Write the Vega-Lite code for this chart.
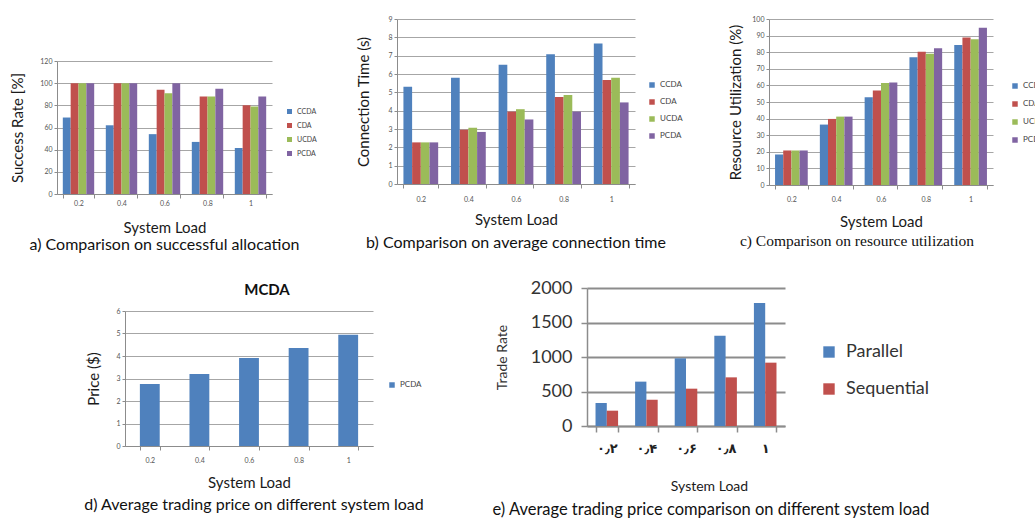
{
  "$schema": "https://vega.github.io/schema/vega-lite/v6.json",
  "background": "white",
  "padding": {"left": 10, "top": 15, "right": 0, "bottom": 0},
  "config": {
    "view": {"stroke": null},
    "font": "Lato",
    "axis": {"domainColor": "#8c8c8c", "tickColor": "#8c8c8c", "gridColor": "#a6a6a6", "labelColor": "#555555", "titleColor": "#1a1a1a", "titleFontWeight": "normal", "labelFont": "Lato", "titleFont": "Lato"},
    "legend": {"layout": {"right": {"anchor": "middle"}}, "labelFont": "Lato", "labelColor": "#444444", "symbolType": "square", "symbolStrokeWidth": 0, "titleFontSize": 1},
    "title": {"font": "Lato", "fontWeight": "normal", "color": "#111111", "anchor": "middle"}
  },
  "datasets": {
    "a": [
      {"load": "0.2", "alg": "CCDA", "v": 69}, {"load": "0.2", "alg": "CDA", "v": 100}, {"load": "0.2", "alg": "UCDA", "v": 100}, {"load": "0.2", "alg": "PCDA", "v": 100},
      {"load": "0.4", "alg": "CCDA", "v": 62}, {"load": "0.4", "alg": "CDA", "v": 100}, {"load": "0.4", "alg": "UCDA", "v": 100}, {"load": "0.4", "alg": "PCDA", "v": 100},
      {"load": "0.6", "alg": "CCDA", "v": 54}, {"load": "0.6", "alg": "CDA", "v": 94}, {"load": "0.6", "alg": "UCDA", "v": 91}, {"load": "0.6", "alg": "PCDA", "v": 100},
      {"load": "0.8", "alg": "CCDA", "v": 47}, {"load": "0.8", "alg": "CDA", "v": 88}, {"load": "0.8", "alg": "UCDA", "v": 88}, {"load": "0.8", "alg": "PCDA", "v": 95},
      {"load": "1", "alg": "CCDA", "v": 41.5}, {"load": "1", "alg": "CDA", "v": 80}, {"load": "1", "alg": "UCDA", "v": 79}, {"load": "1", "alg": "PCDA", "v": 88}
    ],
    "b": [
      {"load": "0.2", "alg": "CCDA", "v": 5.3}, {"load": "0.2", "alg": "CDA", "v": 2.27}, {"load": "0.2", "alg": "UCDA", "v": 2.27}, {"load": "0.2", "alg": "PCDA", "v": 2.27},
      {"load": "0.4", "alg": "CCDA", "v": 5.8}, {"load": "0.4", "alg": "CDA", "v": 2.96}, {"load": "0.4", "alg": "UCDA", "v": 3.07}, {"load": "0.4", "alg": "PCDA", "v": 2.84},
      {"load": "0.6", "alg": "CCDA", "v": 6.5}, {"load": "0.6", "alg": "CDA", "v": 3.95}, {"load": "0.6", "alg": "UCDA", "v": 4.08}, {"load": "0.6", "alg": "PCDA", "v": 3.52},
      {"load": "0.8", "alg": "CCDA", "v": 7.08}, {"load": "0.8", "alg": "CDA", "v": 4.75}, {"load": "0.8", "alg": "UCDA", "v": 4.86}, {"load": "0.8", "alg": "PCDA", "v": 3.95},
      {"load": "1", "alg": "CCDA", "v": 7.66}, {"load": "1", "alg": "CDA", "v": 5.67}, {"load": "1", "alg": "UCDA", "v": 5.8}, {"load": "1", "alg": "PCDA", "v": 4.45}
    ],
    "c": [
      {"load": "0.2", "alg": "CCDA", "v": 18.4}, {"load": "0.2", "alg": "CDA", "v": 20.8}, {"load": "0.2", "alg": "UCDA", "v": 20.8}, {"load": "0.2", "alg": "PCDA", "v": 20.8},
      {"load": "0.4", "alg": "CCDA", "v": 36.4}, {"load": "0.4", "alg": "CDA", "v": 39.8}, {"load": "0.4", "alg": "UCDA", "v": 41.2}, {"load": "0.4", "alg": "PCDA", "v": 41.2},
      {"load": "0.6", "alg": "CCDA", "v": 52.8}, {"load": "0.6", "alg": "CDA", "v": 57}, {"load": "0.6", "alg": "UCDA", "v": 61.4}, {"load": "0.6", "alg": "PCDA", "v": 61.8},
      {"load": "0.8", "alg": "CCDA", "v": 77}, {"load": "0.8", "alg": "CDA", "v": 80.2}, {"load": "0.8", "alg": "UCDA", "v": 79}, {"load": "0.8", "alg": "PCDA", "v": 82.4},
      {"load": "1", "alg": "CCDA", "v": 84.4}, {"load": "1", "alg": "CDA", "v": 88.8}, {"load": "1", "alg": "UCDA", "v": 87.8}, {"load": "1", "alg": "PCDA", "v": 94.8}
    ],
    "d": [
      {"load": "0.2", "alg": "PCDA", "v": 2.76}, {"load": "0.4", "alg": "PCDA", "v": 3.2}, {"load": "0.6", "alg": "PCDA", "v": 3.91}, {"load": "0.8", "alg": "PCDA", "v": 4.36}, {"load": "1", "alg": "PCDA", "v": 4.95}
    ],
    "e": [
      {"load": "۰٫۲", "mode": "Parallel", "v": 333}, {"load": "۰٫۲", "mode": "Sequential", "v": 222},
      {"load": "۰٫۴", "mode": "Parallel", "v": 643}, {"load": "۰٫۴", "mode": "Sequential", "v": 382},
      {"load": "۰٫۶", "mode": "Parallel", "v": 981}, {"load": "۰٫۶", "mode": "Sequential", "v": 541},
      {"load": "۰٫۸", "mode": "Parallel", "v": 1309}, {"load": "۰٫۸", "mode": "Sequential", "v": 705},
      {"load": "۱", "mode": "Parallel", "v": 1783}, {"load": "۱", "mode": "Sequential", "v": 918}
    ],
    "empty": []
  },
  "spacing": 26,
  "resolve": {"scale": {"color": "independent", "xOffset": "independent"}, "legend": {"color": "independent"}},
  "vconcat": [
    {
      "spacing": 45,
      "resolve": {"scale": {"color": "independent", "xOffset": "independent"}, "legend": {"color": "independent"}},
      "hconcat": [
        {
          "spacing": 39,
          "resolve": {"scale": {"color": "independent", "xOffset": "independent"}, "legend": {"color": "independent"}},
          "hconcat": [
            {
              "spacing": 0,
              "resolve": {"scale": {"color": "independent", "xOffset": "independent"}, "legend": {"color": "independent"}},
              "vconcat": [
                {"width": 1, "height": 38, "data": {"name": "empty"}, "mark": {"type": "point", "opacity": 0}, "encoding": {}},
                {
                  "width": 215, "height": 133,
                  "data": {"name": "a"},
                  "mark": {"type": "bar"},
                  "encoding": {
                    "x": {"field": "load", "type": "nominal", "sort": null, "scale": {"paddingInner": 0.27, "paddingOuter": 0.135},
                      "axis": {"title": "System Load", "labelAngle": 0, "labelFontSize": 7, "tickBand": "extent", "tickSize": 4, "labelPadding": 1, "titlePadding": 14, "titleFontSize": 15}},
                    "xOffset": {"field": "alg", "type": "nominal", "sort": ["CCDA", "CDA", "UCDA", "PCDA"]},
                    "y": {"field": "v", "type": "quantitative", "scale": {"domain": [0, 120]},
                      "axis": {"values": [0, 20, 40, 60, 80, 100, 120], "title": "Success Rate [%]", "titleFontSize": 15, "labelFontSize": 7, "tickSize": 3, "titlePadding": 14}},
                    "color": {"field": "alg", "type": "nominal", "scale": {"domain": ["CCDA", "CDA", "UCDA", "PCDA"], "range": ["#4F81BD", "#C0504D", "#9BBB59", "#8064A2"]},
                      "legend": {"title": " ", "titlePadding": 8, "labelFontSize": 7, "symbolSize": 25, "rowPadding": 6, "offset": 14}}
                  },
                  "title": {"text": "a) Comparison on successful allocation", "orient": "bottom", "frame": "group", "fontSize": 16, "offset": 2}
                }
              ]
            },
            {
              "width": 238, "height": 165,
              "data": {"name": "b"},
              "mark": {"type": "bar"},
              "encoding": {
                "x": {"field": "load", "type": "nominal", "sort": null, "scale": {"paddingInner": 0.27, "paddingOuter": 0.135},
                  "axis": {"title": "System Load", "labelAngle": 0, "labelFontSize": 7, "tickBand": "extent", "tickSize": 4, "labelPadding": 7, "titlePadding": 10, "titleFontSize": 15}},
                "xOffset": {"field": "alg", "type": "nominal", "sort": ["CCDA", "CDA", "UCDA", "PCDA"]},
                "y": {"field": "v", "type": "quantitative", "scale": {"domain": [0, 9]},
                  "axis": {"values": [0, 1, 2, 3, 4, 5, 6, 7, 8, 9], "title": "Connection Time (s)", "titleFontSize": 15, "labelFontSize": 7, "tickSize": 3, "titlePadding": 16}},
                "color": {"field": "alg", "type": "nominal", "scale": {"domain": ["CCDA", "CDA", "UCDA", "PCDA"], "range": ["#4F81BD", "#C0504D", "#9BBB59", "#8064A2"]},
                  "legend": {"title": " ", "titlePadding": 17, "labelFontSize": 8, "symbolSize": 30, "rowPadding": 9, "offset": 13}}
              },
              "title": {"text": "b) Comparison on average connection time", "orient": "bottom", "frame": "group", "fontSize": 16, "offset": 8}
            }
          ]
        },
        {
          "width": 224, "height": 166,
          "data": {"name": "c"},
          "mark": {"type": "bar"},
          "encoding": {
            "x": {"field": "load", "type": "nominal", "sort": null, "scale": {"paddingInner": 0.27, "paddingOuter": 0.135},
              "axis": {"title": "System Load", "labelAngle": 0, "labelFontSize": 7, "tickBand": "extent", "tickSize": 4, "labelPadding": 6, "titlePadding": 12, "titleFontSize": 15}},
            "xOffset": {"field": "alg", "type": "nominal", "sort": ["CCDA", "CDA", "UCDA", "PCDA"]},
            "y": {"field": "v", "type": "quantitative", "scale": {"domain": [0, 100]},
              "axis": {"values": [0, 10, 20, 30, 40, 50, 60, 70, 80, 90, 100], "title": "Resource Utilization (%)", "titleFontSize": 15, "labelFontSize": 7, "tickSize": 3, "titlePadding": 8}},
            "color": {"field": "alg", "type": "nominal", "scale": {"domain": ["CCDA", "CDA", "UCDA", "PCDA"], "range": ["#4F81BD", "#C0504D", "#9BBB59", "#8064A2"]},
              "legend": {"title": " ", "titlePadding": 21, "labelFontSize": 8, "symbolSize": 30, "rowPadding": 10, "offset": 18}}
          },
          "title": {"text": "c) Comparison on resource utilization", "orient": "bottom", "frame": "group", "fontSize": 15.5, "font": "Liberation Serif", "dx": -24, "offset": 5}
        }
      ]
    },
    {
      "spacing": 0,
      "resolve": {"scale": {"color": "independent", "xOffset": "independent"}, "legend": {"color": "independent"}},
      "hconcat": [
        {"width": 27, "height": 1, "data": {"name": "empty"}, "mark": {"type": "point", "opacity": 0}, "encoding": {}},
        {
          "spacing": 0,
          "resolve": {"scale": {"color": "independent", "xOffset": "independent"}, "legend": {"color": "independent"}},
          "vconcat": [
            {"width": 248, "height": 19, "data": {"name": "empty"}, "mark": {"type": "point", "opacity": 0}, "encoding": {},
              "title": {"text": "MCDA", "orient": "top", "baseline": "middle", "offset": 0, "dy": 17, "fontWeight": "bold", "fontSize": 15, "frame": "group", "dx": 18}},
            {
              "width": 248, "height": 135,
              "data": {"name": "d"},
              "mark": {"type": "bar"},
              "encoding": {
                "x": {"field": "load", "type": "nominal", "sort": null, "scale": {"paddingInner": 0.6, "paddingOuter": 0.3},
                  "axis": {"title": "System Load", "labelAngle": 0, "labelFontSize": 7, "tickBand": "extent", "tickSize": 4, "labelPadding": 6, "titlePadding": 12, "titleFontSize": 15}},
                "y": {"field": "v", "type": "quantitative", "scale": {"domain": [0, 6]},
                  "axis": {"values": [0, 1, 2, 3, 4, 5, 6], "title": "Price ($)", "titleFontSize": 15, "labelFontSize": 7, "tickSize": 3, "titlePadding": 14}},
                "color": {"field": "alg", "type": "nominal", "scale": {"domain": ["PCDA"], "range": ["#4F81BD"]},
                  "legend": {"title": " ", "titlePadding": 12, "labelFontSize": 8, "symbolSize": 30, "offset": 15}}
              }
            },
            {"width": 248, "height": 1, "data": {"name": "empty"}, "mark": {"type": "point", "opacity": 0}, "encoding": {},
              "title": {"text": "d) Average trading price on different system load", "orient": "bottom", "frame": "group", "fontSize": 16, "dx": 5, "offset": 6}}
          ]
        },
        {"width": 68, "height": 1, "data": {"name": "empty"}, "mark": {"type": "point", "opacity": 0}, "encoding": {}},
        {
          "width": 198, "height": 138,
          "data": {"name": "e"},
          "mark": {"type": "bar"},
          "encoding": {
            "x": {"field": "load", "type": "nominal", "sort": null, "scale": {"paddingInner": 0.43, "paddingOuter": 0.215},
              "axis": {"title": "System Load", "labelAngle": 0, "labelFontSize": 13, "labelFontWeight": "bold", "labelFont": "DejaVu Sans", "labelColor": "#222222", "tickBand": "extent", "tickSize": 6, "labelPadding": 10, "titlePadding": 24, "titleFontSize": 14, "titleX": 122, "domainWidth": 1.5, "tickWidth": 1.5}},
            "xOffset": {"field": "mode", "type": "nominal", "sort": ["Parallel", "Sequential"]},
            "y": {"field": "v", "type": "quantitative", "scale": {"domain": [0, 2000]},
              "axis": {"values": [0, 500, 1000, 1500, 2000], "format": "d", "title": "Trade Rate", "titleFontSize": 14, "titleColor": "#333333", "labelFontSize": 18, "labelColor": "#333333", "tickSize": 6, "labelPadding": 9, "titlePadding": 21, "gridWidth": 2, "gridColor": "#8c8c8c", "domainWidth": 1.5, "tickWidth": 1.5}},
            "color": {"field": "mode", "type": "nominal", "scale": {"domain": ["Parallel", "Sequential"], "range": ["#4F81BD", "#C0504D"]},
              "legend": {"title": " ", "titlePadding": 26, "labelFontSize": 18, "labelColor": "#333333", "symbolSize": 130, "rowPadding": 19, "labelOffset": 8, "offset": 35}}
          },
          "title": {"text": "e) Average trading price comparison on different system load", "orient": "bottom", "frame": "group", "fontSize": 16.5, "dx": 25, "offset": 9}
        }
      ]
    }
  ]
}
